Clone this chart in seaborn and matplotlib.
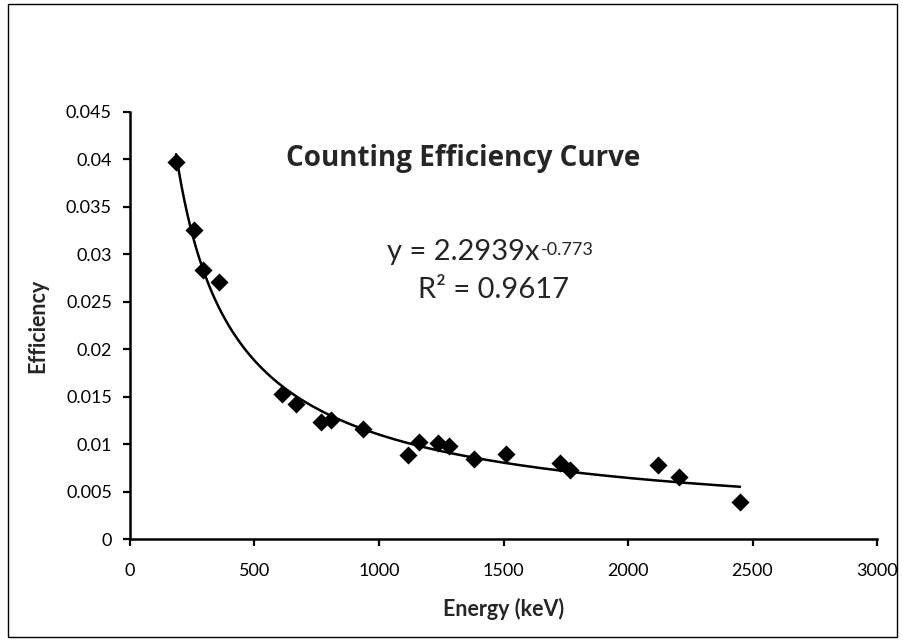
import numpy as np
import pandas as pd
import seaborn as sns
import matplotlib.pyplot as plt
from matplotlib.patches import Rectangle

# gamma line energies (keV) and measured counting efficiency
energy = [185, 258, 294, 357, 609, 665, 768, 806, 934, 1118, 1161, 1238,
          1283, 1383, 1510, 1727, 1767, 2119, 2205, 2450]
efficiency = [0.0397, 0.0326, 0.0283, 0.0271, 0.0153, 0.0142, 0.0123, 0.0125,
              0.0116, 0.0088, 0.0102, 0.0101, 0.0098, 0.0084, 0.0090, 0.0080,
              0.0073, 0.0078, 0.0065, 0.0039]

# power trendline shown on the chart: y = a * x^b
fit_a = 2.2939
fit_b = -0.773
fit_r2 = 0.9617

xticks = [0, 500, 1000, 1500, 2000, 2500, 3000]
yticks = [0, 0.005, 0.01, 0.015, 0.02, 0.025, 0.03, 0.035, 0.04, 0.045]
ytick_labels = ["0", "0.005", "0.01", "0.015", "0.02", "0.025", "0.03",
                "0.035", "0.04", "0.045"]

df = pd.DataFrame({"Energy": energy, "Efficiency": efficiency})
xs = np.linspace(min(energy), max(energy), 200)
trend = pd.DataFrame({"Energy": xs, "Efficiency": fit_a * xs ** fit_b})

sns.set_theme(style="white")
plt.rcParams["font.family"] = ["Lato", "DejaVu Sans"]

fig = plt.figure(figsize=(9.04, 6.41), dpi=100)
ax = fig.add_axes([130 / 904, 1 - 539 / 641, 747 / 904, 427 / 641])

sns.lineplot(data=trend, x="Energy", y="Efficiency", color="black",
             linewidth=1.8, ax=ax)
sns.scatterplot(data=df, x="Energy", y="Efficiency", marker="D", s=85,
                color="black", edgecolor="black", linewidth=0, ax=ax, zorder=3)

ax.set_xlim(0, 3000)
ax.set_ylim(0, 0.045)
ax.set_xticks(xticks)
ax.set_yticks(yticks)
ax.set_yticklabels(ytick_labels)
ax.tick_params(direction="out", length=5, width=1.6, labelsize=13,
               colors="black", left=True, bottom=True)
ax.tick_params(axis="y", pad=8)
ax.tick_params(axis="x", pad=12)

for side in ["top", "right"]:
    ax.spines[side].set_visible(False)
for side in ["left", "bottom"]:
    ax.spines[side].set_linewidth(1.8)
    ax.spines[side].set_color("black")

ax.set_xlabel("Energy (keV)", fontsize=15.5, fontweight="bold", labelpad=14)
ax.set_ylabel("Efficiency", fontsize=15.5, fontweight="bold", labelpad=13)

ax.text(0.446, 0.892, "Counting Efficiency Curve", transform=ax.transAxes,
        ha="center", va="center", fontsize=20, fontweight="bold",
        family=["Open Sans", "DejaVu Sans"])

eq = ax.text(0.344, 0.672, f"y = {fit_a}x", transform=ax.transAxes,
             ha="left", va="center", fontsize=21)
fig.canvas.draw()
bb = eq.get_window_extent().transformed(ax.transAxes.inverted())
ax.text(bb.x1 + 0.002, bb.y1 - 0.006, f"{fit_b}", transform=ax.transAxes,
        ha="left", va="top", fontsize=13)
ax.text(0.487, 0.583, f"R² = {fit_r2}", transform=ax.transAxes,
        ha="center", va="center", fontsize=21)

fig.patches.append(Rectangle((8 / 904, 4 / 641), 889 / 904, 633 / 641,
                             transform=fig.transFigure, fill=False,
                             edgecolor="black", linewidth=1))

fig.savefig("out.png", dpi=100)
